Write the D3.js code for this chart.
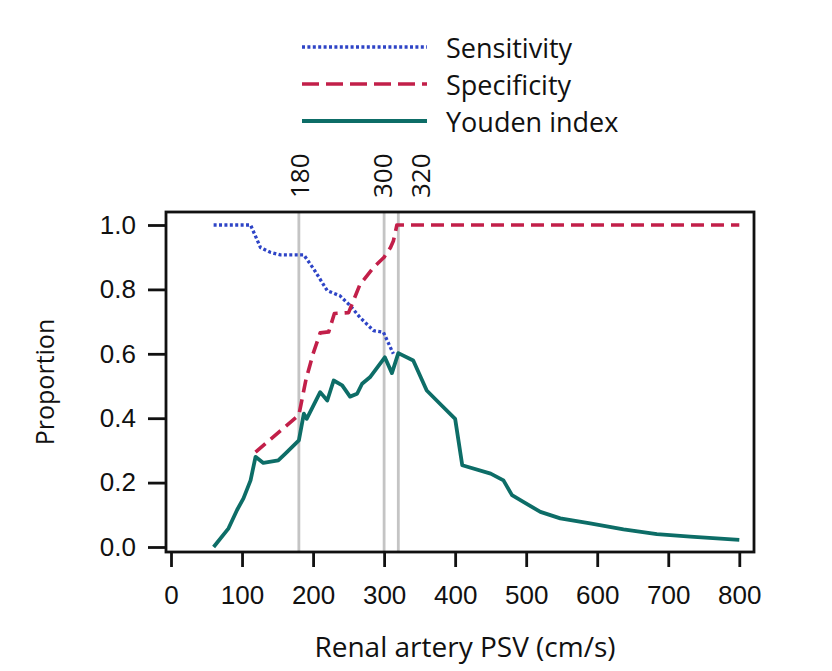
<!DOCTYPE html>
<html>
<head>
<meta charset="utf-8">
<script src="https://cdn.jsdelivr.net/npm/d3@7"></script>
<style>
  body { margin: 0; background: #fff; }
  svg { display: block; font-family: "Open Sans", "DejaVu Sans", sans-serif; }
  .tick text { font-size: 26px; fill: #111; }
</style>
</head>
<body>
<svg id="chart" width="832" height="671"></svg>
<script>
// ── data ──────────────────────────────────────────────────
const psvTicks  = [0, 100, 200, 300, 400, 500, 600, 700, 800];
const propTicks = [0, 0.2, 0.4, 0.6, 0.8, 1.0];
const cutoffs   = [180, 300, 320];

// [PSV cm/s, proportion]
const sensitivity = [
  [60, 1.0], [112, 1.0], [126, 0.93], [140, 0.915], [154, 0.907], [187, 0.907],
  [201, 0.863], [220, 0.796], [238, 0.78], [252, 0.75], [266, 0.713],
  [285, 0.672], [299, 0.667], [313, 0.60]
];
const specificity = [
  [119, 0.295], [180, 0.41], [190, 0.52], [200, 0.6], [210, 0.665], [222, 0.668],
  [230, 0.725], [250, 0.728], [266, 0.815], [285, 0.868], [300, 0.9],
  [309, 0.93], [313, 0.95], [318, 1.0], [800, 1.0]
];
const youden = [
  [60, 0.0], [81, 0.058], [93, 0.115], [102, 0.151], [112, 0.207], [119, 0.28],
  [130, 0.261], [151, 0.269], [161, 0.29], [180, 0.331], [187, 0.414], [191, 0.398],
  [210, 0.481], [220, 0.455], [229, 0.517], [241, 0.502], [252, 0.467], [262, 0.476],
  [269, 0.507], [280, 0.527], [301, 0.589], [311, 0.54], [320, 0.602], [341, 0.579],
  [360, 0.486], [374, 0.455], [400, 0.398], [410, 0.254], [450, 0.228], [468, 0.207],
  [480, 0.161], [496, 0.14], [520, 0.109], [548, 0.089], [590, 0.073], [637, 0.055],
  [684, 0.04], [731, 0.032], [800, 0.022]
];

const series = [
  { name: 'Sensitivity',  data: sensitivity, color: '#2e44c6', width: 3.3, dash: '3,2.4',  legendDash: '3,2.4' },
  { name: 'Specificity',  data: specificity, color: '#c21f49', width: 3.6, dash: '13,7',   legendDash: '17,7' },
  { name: 'Youden index', data: youden,      color: '#0d6d67', width: 3.8, dash: null,     legendDash: null }
];

// ── layout ────────────────────────────────────────────────
const svg = d3.select('#chart');
const x = d3.scaleLinear().domain([0, 800]).range([171, 739.3]);
const y = d3.scaleLinear().domain([0, 1]).range([547, 225]);
const frame = { left: 166, right: 754, top: 212, bottom: 552 };

// cutoff guide lines
svg.append('g').selectAll('line').data(cutoffs).join('line')
  .attr('x1', d => x(d)).attr('x2', d => x(d))
  .attr('y1', frame.top).attr('y2', frame.bottom)
  .attr('stroke', '#c4c4c4').attr('stroke-width', 2.8);

// cutoff labels above the frame (320 nudged right so it clears 300)
const labelShift = { 180: 0, 300: -2, 320: 22 };
svg.append('g').selectAll('text').data(cutoffs).join('text')
  .attr('transform', d => `translate(${x(d) + labelShift[d]},198) rotate(-90)`)
  .attr('text-anchor', 'start').attr('dominant-baseline', 'central')
  .style('font-size', '26px').attr('fill', '#111')
  .text(d => d);

// lines
const line = d3.line().x(d => x(d[0])).y(d => y(d[1]));
svg.append('g').selectAll('path').data(series).join('path')
  .attr('d', d => line(d.data))
  .attr('fill', 'none')
  .attr('stroke', d => d.color)
  .attr('stroke-width', d => d.width)
  .attr('stroke-dasharray', d => d.dash)
  .attr('stroke-linejoin', 'round');

// frame
svg.append('rect')
  .attr('x', frame.left).attr('y', frame.top)
  .attr('width', frame.right - frame.left).attr('height', frame.bottom - frame.top)
  .attr('fill', 'none').attr('stroke', '#111').attr('stroke-width', 2.8);

// axes
const xAxis = svg.append('g').attr('transform', `translate(0,${frame.bottom})`)
  .call(d3.axisBottom(x).tickValues(psvTicks).tickSize(15).tickPadding(19).tickFormat(d3.format('d')));
const yAxis = svg.append('g').attr('transform', `translate(${frame.left},0)`)
  .call(d3.axisLeft(y).tickValues(propTicks).tickSize(18).tickPadding(12).tickFormat(d3.format('.1f')));
[xAxis, yAxis].forEach(a => {
  a.select('.domain').remove();
  a.selectAll('.tick line').attr('stroke', '#111').attr('stroke-width', 2.8);
});

// axis titles
svg.append('text')
  .attr('x', 465).attr('y', 657).attr('text-anchor', 'middle')
  .style('font-size', '28px').attr('fill', '#111')
  .text('Renal artery PSV (cm/s)');
svg.append('text')
  .attr('transform', 'translate(44,382) rotate(-90)')
  .attr('text-anchor', 'middle').attr('dominant-baseline', 'central')
  .style('font-size', '25px').attr('fill', '#111')
  .text('Proportion');

// legend
const legend = svg.append('g').selectAll('g').data(series).join('g')
  .attr('transform', (d, i) => `translate(302,${47 + i * 37})`);
legend.append('line')
  .attr('x1', 0).attr('x2', 125)
  .attr('stroke', d => d.color)
  .attr('stroke-width', d => d.width)
  .attr('stroke-dasharray', d => d.legendDash);
legend.append('text')
  .attr('x', 144).attr('dominant-baseline', 'central')
  .style('font-size', '27px').attr('fill', '#111')
  .text(d => d.name);
</script>
</body>
</html>
